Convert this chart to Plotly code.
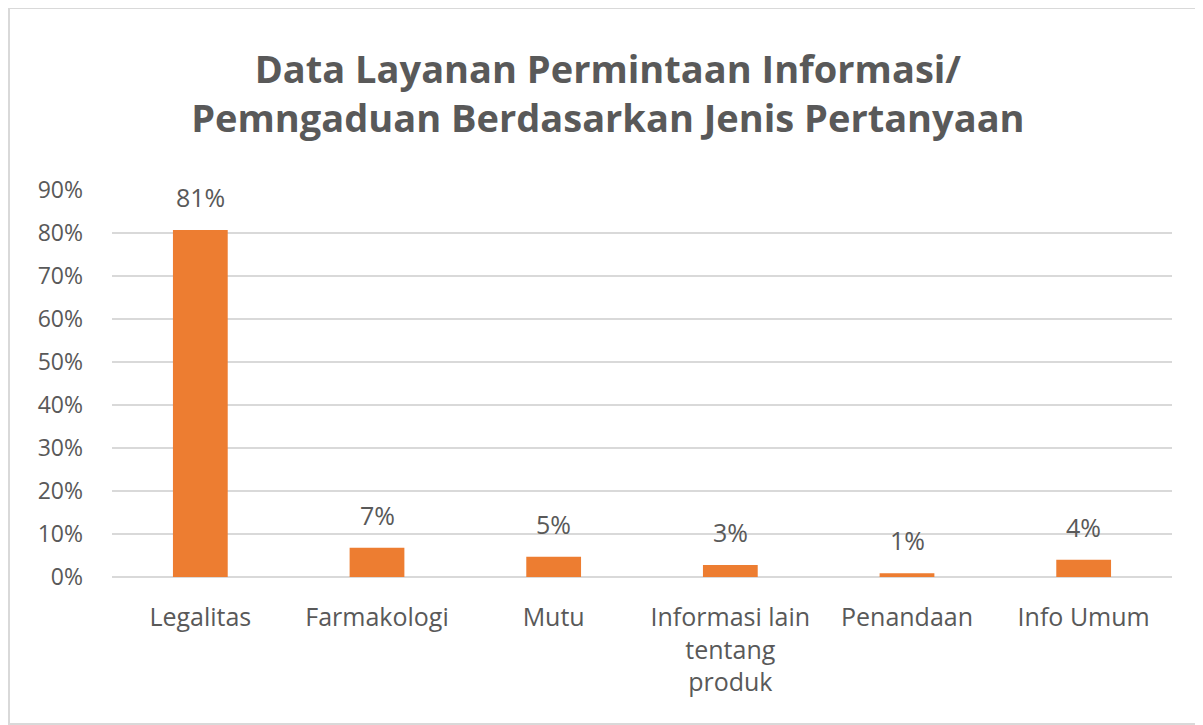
import plotly.graph_objects as go

categories = ["Legalitas", "Farmakologi", "Mutu", "Informasi lain<br>tentang<br>produk", "Penandaan", "Info Umum"]
values = [0.807, 0.068, 0.047, 0.028, 0.009, 0.040]
y_ticks = [0, 0.1, 0.2, 0.3, 0.4, 0.5, 0.6, 0.7, 0.8, 0.9]
y_tick_labels = ["0%", "10%", "20%", "30%", "40%", "50%", "60%", "70%", "80%", "90%"]

# page has an 8px body offset; figure coordinates are page - 8
W, H = 1195, 717
ml, mr, mt, mb = 104, 31, 182, 148
pw, ph = W - ml - mr, H - mt - mb

def px_x(p):
    return (p - ml) / pw

def px_y(p):
    return (H - mb - p) / ph

fig = go.Figure(go.Bar(
    x=categories, y=values,
    marker=dict(color="#ED7D31", line=dict(width=0)),
    hoverinfo="x+y",
))

annotations = [
    dict(x=c, y=v, xref="x", yref="y", text=f"{round(v * 100)}%", showarrow=False,
         yanchor="bottom", yshift=14,
         font=dict(family="Open Sans", size=25, color="#595959"))
    for c, v in zip(categories, values)
]

fig.update_layout(
    width=W, height=H,
    margin=dict(l=ml, r=mr, t=mt, b=mb),
    paper_bgcolor="white", plot_bgcolor="white",
    bargap=0.69,
    showlegend=False,
    title=dict(
        text="<b>Data Layanan Permintaan Informasi/<br>Pemngaduan Berdasarkan Jenis Pertanyaan</b>",
        x=0.502, xanchor="center", y=0.896, yanchor="middle",
        font=dict(family="Open Sans", size=38, color="#595959"),
    ),
    xaxis=dict(
        showgrid=False, showline=False, ticks="",
        tickfont=dict(family="Open Sans", size=25, color="#595959"),
        ticklabelstandoff=23,
        automargin=False,
    ),
    yaxis=dict(
        range=[0, 0.9], tickvals=y_ticks, ticktext=y_tick_labels,
        showgrid=True, gridcolor="#D9D9D9", gridwidth=2,
        zeroline=True, zerolinecolor="#D9D9D9", zerolinewidth=2,
        showline=False, ticks="", ticklabelstandoff=28,
        tickfont=dict(family="Open Sans", size=23, color="#595959"),
        automargin=False,
    ),
    annotations=annotations,
    shapes=[dict(
        type="rect", xref="paper", yref="paper",
        x0=px_x(1), x1=px_x(1191), y0=px_y(716), y1=px_y(0),
        line=dict(color="#D9D9D9", width=2), fillcolor="rgba(0,0,0,0)", layer="below",
    )],
)

fig.write_html("out.html")
